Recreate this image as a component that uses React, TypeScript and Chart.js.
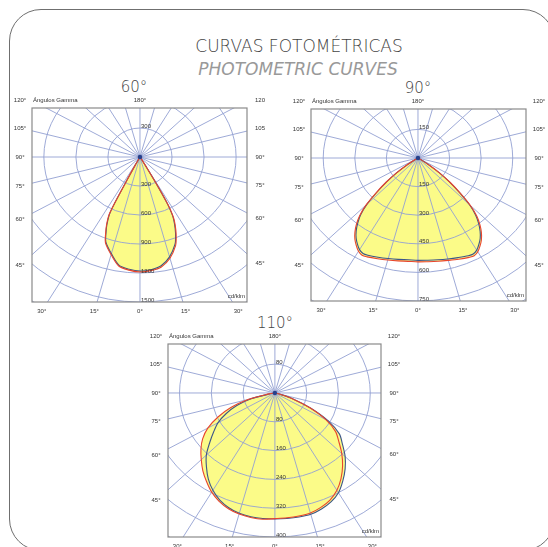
import React, { useEffect, useRef } from "react";
import { Chart, registerables } from "chart.js";

Chart.register(...registerables);

// ---------- DATA (cd/klm versus gamma angle, degrees from nadir) ----------
const GAMMA_60 = [0, 5, 10, 15, 20, 22, 24, 26, 27, 28, 29, 30, 31, 32, 35];
const C0_60 = [1190, 1180, 1155, 1085, 975, 905, 825, 735, 670, 565, 330, 125, 35, 0, 0];
const C90_60 = [1180, 1170, 1142, 1070, 960, 890, 810, 720, 655, 550, 315, 115, 30, 0, 0];
const C180_60 = [1190, 1175, 1145, 1045, 945, 860, 770, 650, 260, 80, 20, 0, 0, 0, 0];
const C270_60 = [1180, 1165, 1135, 1035, 935, 850, 760, 635, 245, 75, 18, 0, 0, 0, 0];
const RINGS_60 = [300, 600, 900, 1200, 1500, 1800, 2100];
const RING_LABELS_60 = [300, 600, 900, 1200, 1500];

const GAMMA_90 = [0, 5, 10, 15, 20, 25, 27.5, 30, 32.5, 35, 37.5, 40, 42.5, 45, 47.5, 50, 52.5, 55, 57.5, 60];
const C0_90 = [545, 546, 550, 556, 565, 575, 578, 568, 548, 525, 495, 458, 414, 352, 272, 200, 134, 68, 16, 0];
const C90_90 = [537, 538, 542, 548, 556, 566, 568, 558, 538, 515, 485, 448, 405, 345, 265, 195, 130, 65, 15, 0];
const C180_90 = [545, 544, 548, 554, 562, 572, 575, 565, 545, 522, 492, 455, 410, 348, 268, 198, 132, 66, 15, 0];
const C270_90 = [537, 536, 540, 546, 554, 563, 565, 555, 535, 512, 482, 445, 402, 342, 262, 193, 128, 63, 14, 0];
const RINGS_90 = [150, 300, 450, 600, 750, 900, 1050];
const RING_LABELS_90 = [150, 300, 450, 600, 750];

const GAMMA_110 = [0, 5, 10, 15, 20, 25, 30, 35, 40, 45, 50, 55, 60, 65, 70, 75, 80, 85, 90];
const C0_110 = [349, 348, 347, 345, 338, 328, 312, 290, 265, 238, 210, 186, 148, 96, 48, 12, 0, 0, 0];
const C90_110 = [350, 350, 350, 349, 343, 334, 320, 298, 275, 250, 222, 198, 155, 100, 50, 12, 0, 0, 0];
const C180_110 = [349, 352, 351, 348, 342, 332, 318, 300, 282, 262, 243, 222, 195, 158, 118, 70, 15, 0, 0];
const C270_110 = [350, 350, 349, 346, 339, 328, 312, 292, 268, 244, 214, 188, 165, 135, 102, 62, 12, 0, 0];
const RINGS_110 = [80, 160, 240, 320, 400, 480, 560];
const RING_LABELS_110 = [80, 160, 240, 320, 400];

const RAY_ANGLES = [0, 15, 30, 45, 60, 75, 90, 105, 120, 135, 150, 165, 180, 195, 210, 225, 240, 255, 270, 285, 300, 315, 330, 345];
const SIDE_ANGLES = [120, 105, 90, 75, 60, 45];
const BOTTOM_ANGLES = [30, 15, 0, 15, 30];
const BOTTOM_SIGNS = [-1, -1, 0, 1, 1];

// ---------- STYLE ----------
const RED = "#e8452e";
const BLUE = "#3d5688";
const YELLOW = "#fbfb88";
const GRID = "#93a0d2";
const FRAME = "#8a8a8a";
const TEXT = "#333333";
const SMALL_FONT = "6px 'Liberation Sans', Arial, sans-serif";

const PAD = { left: 24, right: 24, top: 16, bottom: 14 };

function loop(gamma: number[], left: number[], right: number[]) {
  const pts: { x: number; y: number }[] = [];
  for (let i = gamma.length - 1; i >= 0; i--) {
    const g = (gamma[i] * Math.PI) / 180;
    pts.push({ x: -left[i] * Math.sin(g), y: -left[i] * Math.cos(g) });
  }
  for (let i = 1; i < gamma.length; i++) {
    const g = (gamma[i] * Math.PI) / 180;
    pts.push({ x: right[i] * Math.sin(g), y: -right[i] * Math.cos(g) });
  }
  return pts;
}

type Spec = {
  title: string;
  titleX: number;
  titleY: number;
  frame: { L: number; R: number; T: number; B: number };
  xr: [number, number];
  yr: [number, number];
  gamma: number[];
  c0: number[];
  c90: number[];
  c180: number[];
  c270: number[];
  rings: number[];
  ringLabels: number[];
  rightLabels: string[];
  leftLabels: string[];
};

const SPECS: Spec[] = [
  {
    title: "60°", titleX: 134, titleY: 87,
    frame: { L: 32, R: 247, T: 108, B: 302 },
    xr: [-1011, 1002], yr: [-1500, 507],
    gamma: GAMMA_60, c0: C0_60, c90: C90_60, c180: C180_60, c270: C270_60,
    rings: RINGS_60, ringLabels: RING_LABELS_60,
    leftLabels: ["120°", "105°", "90°", "75°", "60°", "45°"],
    rightLabels: ["120", "105", "90°", "75°", "60°", "45°"],
  },
  {
    title: "90°", titleX: 418, titleY: 88,
    frame: { L: 311, R: 526, T: 109, B: 301 },
    xr: [-508, 513], yr: [-750, 257],
    gamma: GAMMA_90, c0: C0_90, c90: C90_90, c180: C180_90, c270: C270_90,
    rings: RINGS_90, ringLabels: RING_LABELS_90,
    leftLabels: ["120°", "105°", "90°", "75°", "60°", "45°"],
    rightLabels: ["120°", "105°", "90°", "75°", "60°", "45°"],
  },
  {
    title: "110°", titleX: 275, titleY: 323,
    frame: { L: 168, R: 381, T: 344, B: 537 },
    xr: [-269, 267], yr: [-400, 136],
    gamma: GAMMA_110, c0: C0_110, c90: C90_110, c180: C180_110, c270: C270_110,
    rings: RINGS_110, ringLabels: RING_LABELS_110,
    leftLabels: ["120°", "105°", "90°", "75°", "60°", "45°"],
    rightLabels: ["120°", "105°", "90°", "75°", "60°", "45°"],
  },
];

function makePlugin(spec: Spec) {
  return {
    id: "polarGrid",
    beforeDatasetsDraw(chart: any) {
      const { ctx, chartArea: a, scales } = chart;
      const x = scales.x, y = scales.y;
      const cx = x.getPixelForValue(0), cy = y.getPixelForValue(0);
      ctx.save();
      ctx.beginPath();
      ctx.rect(a.left, a.top, a.right - a.left, a.bottom - a.top);
      ctx.clip();
      ctx.strokeStyle = GRID;
      ctx.lineWidth = 0.9;
      for (const r of spec.rings) {
        const rx = x.getPixelForValue(r) - cx;
        const ry = cy - y.getPixelForValue(r);
        ctx.beginPath();
        ctx.ellipse(cx, cy, rx, ry, 0, 0, Math.PI * 2);
        ctx.stroke();
      }
      const big = spec.rings[spec.rings.length - 1] * 3;
      for (const ang of RAY_ANGLES) {
        const t = (ang * Math.PI) / 180;
        ctx.beginPath();
        ctx.moveTo(cx, cy);
        ctx.lineTo(x.getPixelForValue(big * Math.sin(t)), y.getPixelForValue(-big * Math.cos(t)));
        ctx.stroke();
      }
      ctx.restore();
    },
    afterDatasetsDraw(chart: any) {
      const { ctx, chartArea: a, scales } = chart;
      const x = scales.x, y = scales.y;
      const cx = x.getPixelForValue(0), cy = y.getPixelForValue(0);
      ctx.save();
      ctx.fillStyle = "#27408b";
      ctx.beginPath();
      ctx.arc(cx, cy, 2.2, 0, Math.PI * 2);
      ctx.fill();
      ctx.font = SMALL_FONT;
      ctx.fillStyle = TEXT;
      ctx.textAlign = "left";
      ctx.textBaseline = "bottom";
      for (const v of spec.ringLabels) {
        ctx.fillText(String(v), cx + 1, y.getPixelForValue(-v) + 1);
      }
      ctx.fillText(String(spec.ringLabels[0]), cx + 1, y.getPixelForValue(spec.ringLabels[0]) + 1);
      ctx.strokeStyle = FRAME;
      ctx.lineWidth = 1.2;
      ctx.strokeRect(a.left, a.top, a.right - a.left, a.bottom - a.top);
      ctx.textAlign = "right";
      ctx.textBaseline = "middle";
      ctx.fillText("cd/klm", a.right - 2, a.bottom - 6);
      const topY = a.top - 8;
      ctx.textAlign = "left";
      ctx.fillText("Ángulos Gamma", a.left + 1, topY);
      ctx.textAlign = "center";
      ctx.fillText("180°", cx, topY);
      const lx = a.left - 12, rxp = a.right + 11;
      const xlU = x.getValueForPixel(lx), xrU = x.getValueForPixel(rxp);
      SIDE_ANGLES.forEach((g, i) => {
        const t = (g * Math.PI) / 180;
        const tl = -xlU / Math.sin(t);
        const tr = xrU / Math.sin(t);
        const yl = Math.max(topY, y.getPixelForValue(-Math.cos(t) * tl));
        const yr = Math.max(topY, y.getPixelForValue(-Math.cos(t) * tr));
        ctx.textAlign = "center";
        ctx.fillText(spec.leftLabels[i], lx, yl);
        ctx.fillText(spec.rightLabels[i], rxp + 2, yr);
      });
      const by = a.bottom + 9;
      const byU = y.getValueForPixel(by);
      BOTTOM_ANGLES.forEach((g, i) => {
        const t = (g * Math.PI) / 180;
        const len = -byU / Math.cos(t);
        const px = x.getPixelForValue(BOTTOM_SIGNS[i] * Math.sin(t) * len);
        ctx.textAlign = "center";
        ctx.fillText(g + "°", px, by);
      });
      ctx.restore();
    },
  };
}

function Polar({ spec }: { spec: Spec }) {
  const ref = useRef<HTMLCanvasElement>(null);
  const { L, R, T, B } = spec.frame;
  const w = R - L + PAD.left + PAD.right;
  const h = B - T + PAD.top + PAD.bottom;
  useEffect(() => {
    if (!ref.current) return;
    const chart = new Chart(ref.current, {
      type: "scatter",
      data: {
        datasets: [
          {
            data: loop(spec.gamma, spec.c180, spec.c0),
            showLine: true,
            borderColor: RED,
            borderWidth: 1.1,
            backgroundColor: YELLOW,
            fill: "shape",
            pointRadius: 0,
            tension: 0.3,
          },
          {
            data: loop(spec.gamma, spec.c270, spec.c90),
            showLine: true,
            borderColor: BLUE,
            borderWidth: 1.1,
            backgroundColor: YELLOW,
            fill: "shape",
            pointRadius: 0,
            tension: 0.3,
          },
        ],
      } as any,
      options: {
        responsive: false,
        animation: false,
        events: [],
        layout: { padding: PAD },
        scales: {
          x: { type: "linear", min: spec.xr[0], max: spec.xr[1], display: false },
          y: { type: "linear", min: spec.yr[0], max: spec.yr[1], display: false },
        },
        plugins: {
          legend: { display: false },
          tooltip: { enabled: false },
          filler: { propagate: false, drawTime: "beforeDatasetsDraw" },
        },
      } as any,
      plugins: [makePlugin(spec)],
    });
    return () => chart.destroy();
  }, [spec]);
  return (
    <canvas
      ref={ref}
      width={w}
      height={h}
      style={{ position: "absolute", left: L - PAD.left, top: T - PAD.top, width: w, height: h }}
    />
  );
}

export default function App() {
  return (
    <div
      style={{
        position: "fixed",
        left: 0,
        top: 0,
        width: 548,
        height: 547,
        overflow: "hidden",
        background: "#ffffff",
      }}
    >
      <div
        style={{
          position: "absolute",
          left: 9,
          top: 9,
          width: 546,
          height: 542,
          boxSizing: "border-box",
          border: "1.6px solid #6f6f6f",
          borderRadius: 32,
        }}
      />
      <div
        style={{
          position: "absolute",
          left: 0,
          width: 598,
          top: 36,
          textAlign: "center",
          fontFamily: "'DejaVu Sans', sans-serif",
          fontWeight: 200,
          fontSize: 17,
          lineHeight: "20px",
          color: "#444444",
          whiteSpace: "nowrap",
        }}
      >
        CURVAS FOTOMÉTRICAS
      </div>
      <div
        style={{
          position: "absolute",
          left: 0,
          width: 596,
          top: 59,
          textAlign: "center",
          fontFamily: "'DejaVu Sans', sans-serif",
          fontWeight: 200,
          fontStyle: "italic",
          fontSize: 17,
          lineHeight: "20px",
          color: "#999999",
          whiteSpace: "nowrap",
        }}
      >
        PHOTOMETRIC CURVES
      </div>
      {SPECS.map((s) => (
        <div
          key={s.title}
          style={{
            position: "absolute",
            left: s.titleX - 40,
            width: 80,
            top: s.titleY - 9,
            textAlign: "center",
            fontFamily: "'DejaVu Sans', sans-serif",
            fontWeight: 200,
            fontSize: 15,
            lineHeight: "18px",
            color: "#444444",
          }}
        >
          {s.title}
        </div>
      ))}
      {SPECS.map((s) => (
        <Polar key={"c" + s.title} spec={s} />
      ))}
    </div>
  );
}
